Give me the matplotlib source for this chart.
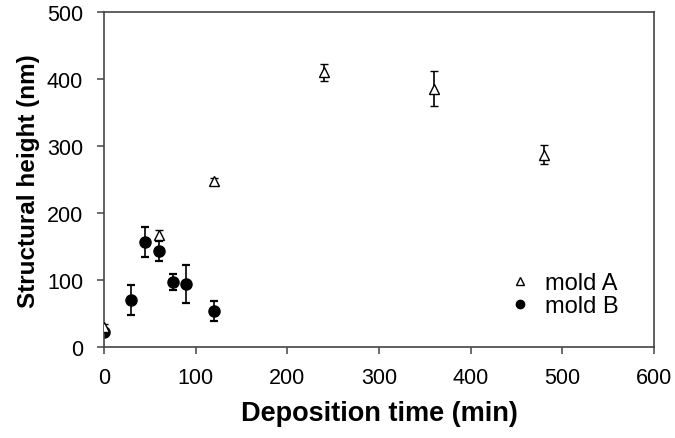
import matplotlib
matplotlib.use("Agg")
import matplotlib.pyplot as plt

plt.rcParams['font.family'] = ['Liberation Sans', 'DejaVu Sans']

# mold A
timeA = [0, 60, 120, 240, 360, 480]
heightA = [30, 168, 248, 410, 386, 287]
errA = [4, 7, 5, 13, 26, 14]

# mold B
timeB = [0, 30, 45, 60, 75, 90, 120]
heightB = [22, 70, 157, 143, 97, 94, 54]
errB = [3, 22, 23, 15, 12, 28, 15]

fig = plt.figure(figsize=(6.75, 4.39), dpi=100)
ax = fig.add_axes([0.154, 0.207, 0.815, 0.763])

ax.errorbar(timeA, heightA, yerr=errA, fmt='^', mfc='white', mec='black',
            ms=7, mew=1.0, ecolor='black', elinewidth=1.2, capsize=2.8,
            capthick=1.6, label='mold A', zorder=3)
ax.errorbar(timeB, heightB, yerr=errB, fmt='o', mfc='black', mec='black',
            ms=8, ecolor='black', elinewidth=1.2, capsize=3.2,
            capthick=1.6, label='mold B', zorder=2)

ax.set_xlim(0, 600)
ax.set_ylim(0, 500)
ax.set_xticks(range(0, 601, 100))
ax.set_yticks(range(0, 501, 100))
ax.tick_params(axis='both', labelsize=15.5, direction='out', length=5,
               width=1.1, colors='#444444', labelcolor='black')
ax.tick_params(axis='y', pad=10)
ax.tick_params(axis='x', pad=9)
for s in ax.spines.values():
    s.set_color('#444444')
    s.set_linewidth(1.2)

ax.set_xlabel('Deposition time (min)', fontsize=19.5, fontweight='bold', labelpad=9)
ax.set_ylabel('Structural height (nm)', fontsize=17.5, fontweight='bold', labelpad=5)

handles, labels = ax.get_legend_handles_labels()
handles = [h[0] for h in handles]
leg = ax.legend(handles, labels, loc='lower right', frameon=False, fontsize=17,
                handletextpad=0.05, markerscale=0.75, borderaxespad=0.3,
                labelspacing=0.05, bbox_to_anchor=(0.965, 0.04))

fig.savefig('out.png', dpi=100)
